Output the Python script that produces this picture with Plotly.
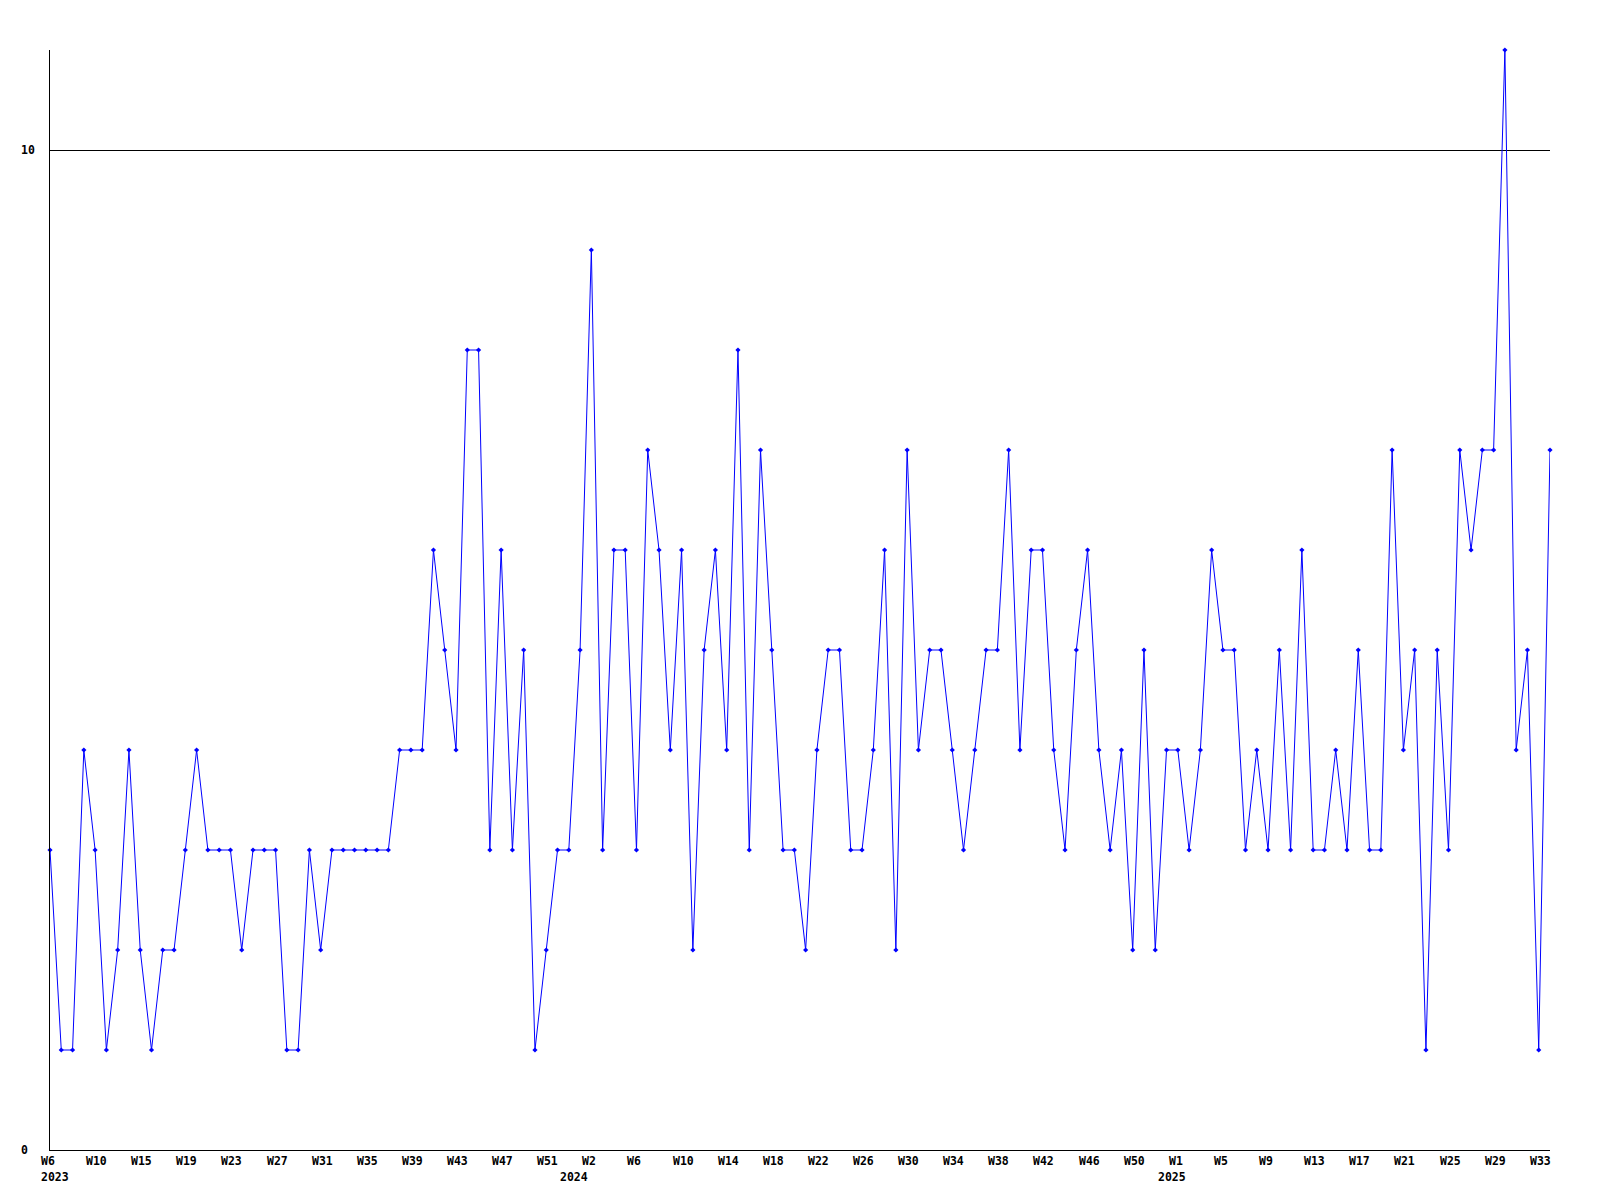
import plotly.graph_objects as go

# Weekly values, 2023 W6 .. 2025 W34 (134 points)
values = [
    3, 1, 1, 4, 3, 1, 2, 4, 2, 1, 2, 2, 3, 4, 3, 3, 3, 2, 3, 3,
    3, 1, 1, 3, 2, 3, 3, 3, 3, 3, 3, 4, 4, 4, 6, 5, 4, 8, 8, 3,
    6, 3, 5, 1, 2, 3, 3, 5, 9, 3, 6, 6, 3, 7, 6, 4, 6, 2, 5, 6,
    4, 8, 3, 7, 5, 3, 3, 2, 4, 5, 5, 3, 3, 4, 6, 2, 7, 4, 5, 5,
    4, 3, 4, 5, 5, 7, 4, 6, 6, 4, 3, 5, 6, 4, 3, 4, 2, 5, 2, 4,
    4, 3, 4, 6, 5, 5, 3, 4, 3, 5, 3, 6, 3, 3, 4, 3, 5, 3, 3, 7,
    4, 5, 1, 5, 3, 7, 6, 7, 7, 11, 4, 5, 1, 7,
]

# x tick labels, one every 4 weeks
week_labels = [
    "W6", "W10", "W15", "W19", "W23", "W27", "W31", "W35", "W39", "W43",
    "W47", "W51", "W2", "W6", "W10", "W14", "W18", "W22", "W26", "W30",
    "W34", "W38", "W42", "W46", "W50", "W1", "W5", "W9", "W13", "W17",
    "W21", "W25", "W29", "W33",
]
label_step = 4
# year labels and the week index where each year starts
years = ["2023", "2024", "2025"]
year_start_index = [0, 46, 99]
y_ticks = [0, 10]

x = list(range(len(values)))

fig = go.Figure()
fig.add_trace(go.Scatter(
    x=x, y=values, mode="lines+markers",
    line=dict(color="#0000ff", width=1),
    marker=dict(color="#0000ff", symbol="diamond", size=4),
    cliponaxis=False, showlegend=False, hoverinfo="skip",
))

font = dict(family="DejaVu Sans Mono", size=11.5, color="black")
annotations = []
for i, lab in enumerate(week_labels):
    annotations.append(dict(
        x=i * label_step, y=0, xref="x", yref="paper", text=f"<b>{lab}</b>",
        showarrow=False, xanchor="left", yanchor="middle",
        xshift=-11, yshift=-11, font=font,
    ))
for yr, xi in zip(years, year_start_index):
    annotations.append(dict(
        x=xi, y=0, xref="x", yref="paper", text=f"<b>{yr}</b>",
        showarrow=False, xanchor="left", yanchor="middle",
        xshift=-11, yshift=-26.5, font=font,
    ))
for v in y_ticks:
    annotations.append(dict(
        x=0, y=v, xref="paper", yref="y", text=f"<b>{v}</b>",
        showarrow=False, xanchor="left", yanchor="middle",
        xshift=-31, font=font,
    ))

fig.update_layout(
    width=1600, height=1200,
    margin=dict(l=42, r=58, t=42, b=58),
    paper_bgcolor="white", plot_bgcolor="white",
    annotations=annotations,
    xaxis=dict(
        range=[0, len(values) - 1], showgrid=False, zeroline=False,
        showline=True, linecolor="black", linewidth=1,
        showticklabels=False, ticks="",
    ),
    yaxis=dict(
        range=[0, 11], tickvals=y_ticks, showgrid=True,
        gridcolor="black", gridwidth=1, zeroline=False,
        showline=True, linecolor="black", linewidth=1,
        showticklabels=False, ticks="",
    ),
)

fig.write_html("out.html")
